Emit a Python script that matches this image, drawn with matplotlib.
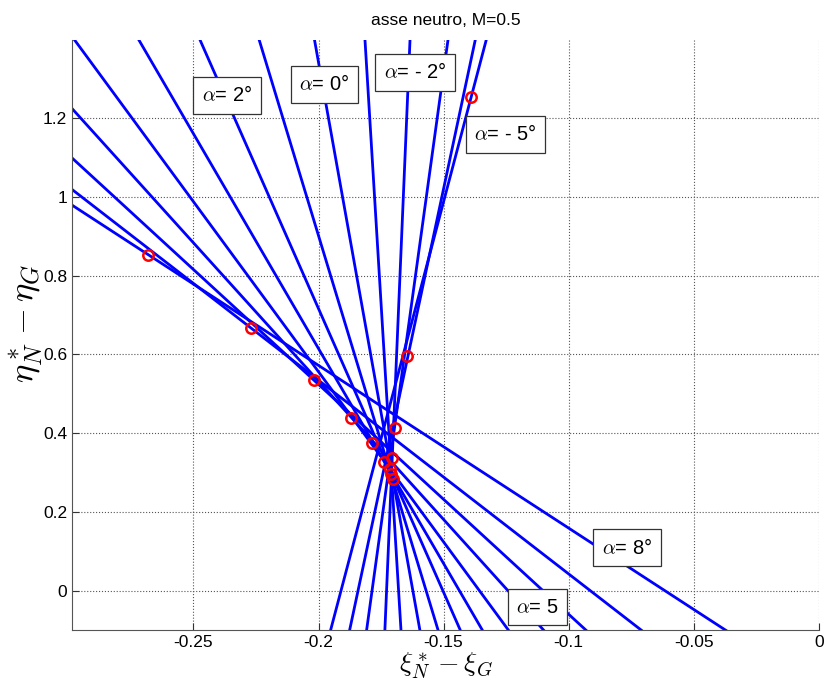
import numpy as np
import matplotlib.pyplot as plt

plt.rcParams['mathtext.fontset'] = 'cm'
plt.rcParams['font.family'] = ['Liberation Sans', 'DejaVu Sans']

# inclinazione alpha [deg] per ogni asse neutro
alpha = [8, 7, 6, 5, 4, 3, 2, 1, 0, -1, -2, -3, -4, -5]
# asse neutro scritto come xi = xi0 + k * eta
xi0 = [-0.0616, -0.0914, -0.1103, -0.1243, -0.1357, -0.1437, -0.1503,
       -0.1570, -0.1623, -0.1680, -0.1728, -0.1786, -0.1842, -0.1910]
k = [-0.2420, -0.2033, -0.1713, -0.1423, -0.1157, -0.0916, -0.0694,
     -0.0477, -0.0281, -0.0096, 0.0067, 0.0217, 0.0335, 0.0415]

# punti segnati (cerchi rossi)
xi_p = [-0.2683, -0.2269, -0.2016, -0.1872, -0.1787, -0.1739, -0.1715,
        -0.1711, -0.1703, -0.1707, -0.1695, -0.1647, -0.1390]
eta_p = [0.853, 0.668, 0.536, 0.439, 0.375, 0.327, 0.309,
         0.297, 0.284, 0.337, 0.414, 0.597, 1.253]

# etichette
lab_txt = [r'$\alpha$= 2°', r'$\alpha$= 0°', r'$\alpha$= - 2°',
           r'$\alpha$= - 5°', r'$\alpha$= 8°', r'$\alpha$= 5']
lab_x = [-0.2366, -0.1976, -0.1614, -0.1253, -0.0767, -0.1125]
lab_y = [1.258, 1.286, 1.316, 1.159, 0.109, -0.042]

fig = plt.figure(figsize=(8.24, 6.86), dpi=100)
ax = fig.add_axes([0.0874, 0.0816, 0.9065, 0.86])

eta = np.array([-0.3, 1.6])
for i in range(len(alpha)):
    ax.plot(xi0[i] + k[i] * eta, eta, color='#0000ff', lw=2)

ax.plot(xi_p, eta_p, 'o', mfc='none', mec='#ff0000', ms=7.5, mew=1.8)

for t, x, y in zip(lab_txt, lab_x, lab_y):
    ax.text(x, y, t, fontsize=14.5, ha='center', va='center', zorder=5,
            bbox=dict(boxstyle='square,pad=0.42', fc='white', ec='#333333', lw=0.9))

ax.set_xlim(-0.2985, 0)
ax.set_ylim(-0.1, 1.398)
ax.set_xticks([-0.25, -0.2, -0.15, -0.1, -0.05, 0])
ax.set_xticklabels(['-0.25', '-0.2', '-0.15', '-0.1', '-0.05', '0'])
ax.set_yticks([0, 0.2, 0.4, 0.6, 0.8, 1, 1.2])
ax.set_yticklabels(['0', '0.2', '0.4', '0.6', '0.8', '1', '1.2'])
ax.tick_params(direction='in', length=5, labelsize=12.5, color='#333333')
ax.grid(True, linestyle=':', color='#555555', lw=0.8)

for s in ['top', 'right']:
    ax.spines[s].set_visible(False)
for s in ['left', 'bottom']:
    ax.spines[s].set_color('#555555')

ax.set_title('asse neutro, M=0.5', fontsize=12.5, pad=11)
ax.set_xlabel(r'$\xi_N^* - \xi_G$', fontsize=20, labelpad=0)
ax.set_ylabel(r'$\eta_N^* - \eta_G$', fontsize=25)
ax.yaxis.set_label_coords(-0.036, 0.52)

fig.savefig('out.png', dpi=100)
